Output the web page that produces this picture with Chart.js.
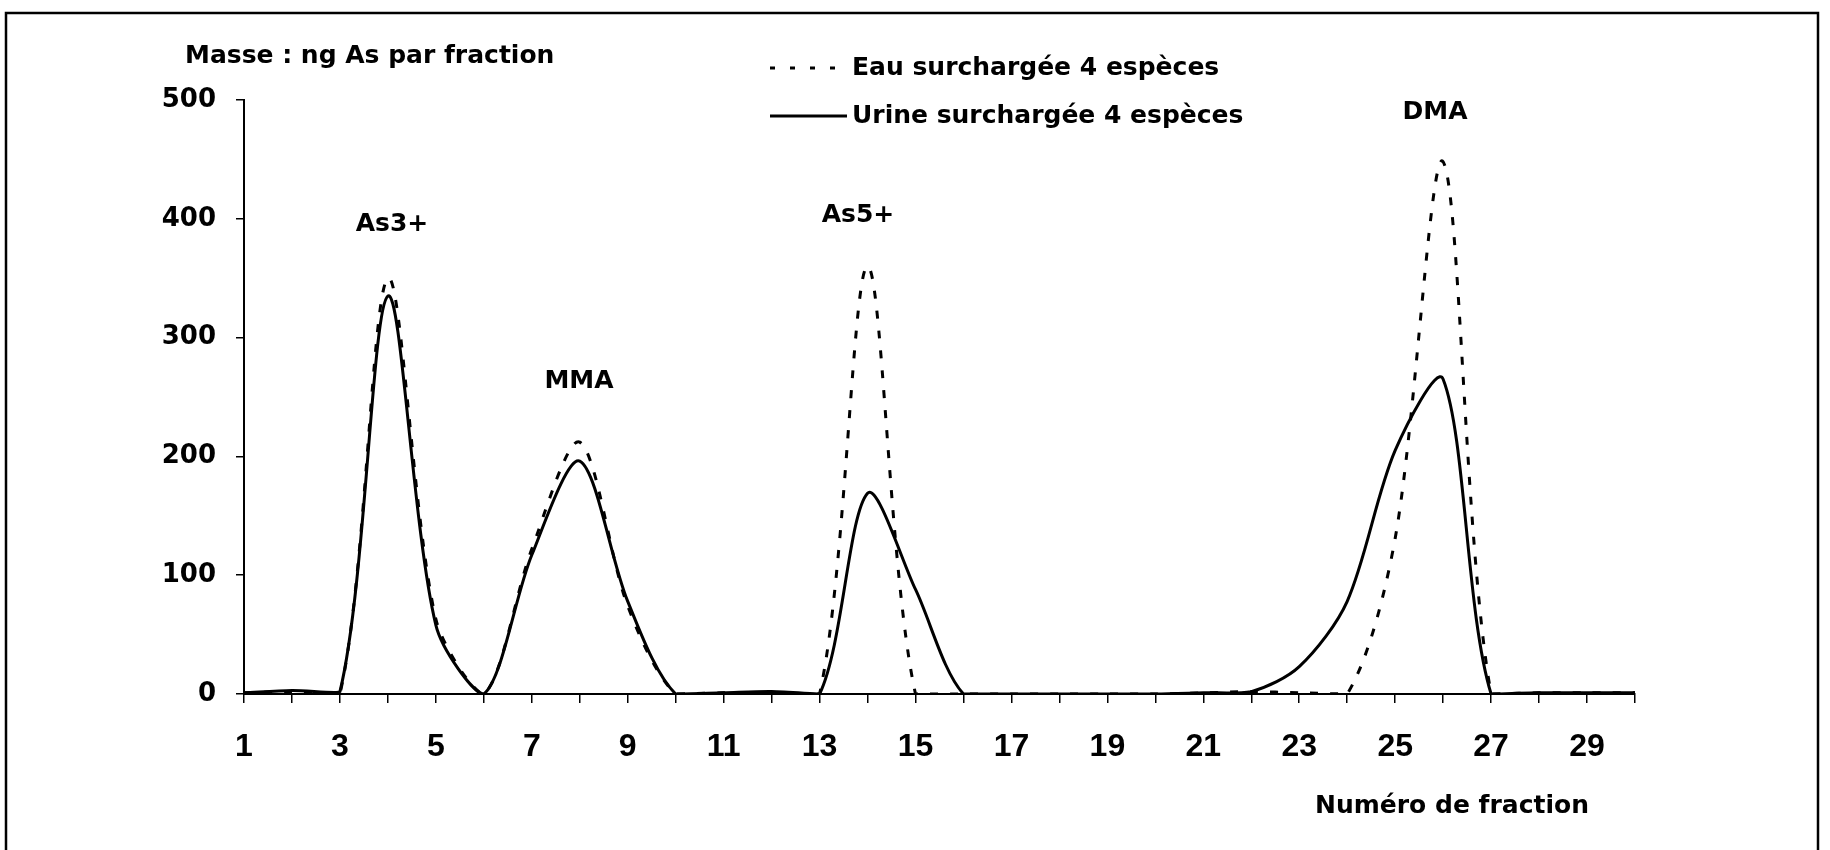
<!DOCTYPE html>
<html>
<head>
<meta charset="utf-8">
<script src="https://cdn.jsdelivr.net/npm/chart.js@4.4.1/dist/chart.umd.min.js"></script>
<style>
  html, body { margin: 0; padding: 0; background: #fff; }
</style>
</head>
<body>
<canvas id="fraction-chart" width="1830" height="850"></canvas>
<script>
// Numéro de fraction (x axis)
const fractions = [1, 2, 3, 4, 5, 6, 7, 8, 9, 10, 11, 12, 13, 14, 15, 16, 17, 18, 19, 20, 21, 22, 23, 24, 25, 26, 27, 28, 29, 30];

// ng As par fraction
const eauValues = [1, 2, 0, 350, 63, 0, 122, 212, 74, 0, 1, 1, 0, 360, 0, 0, 0, 0, 0, 0, 1, 2, 1, 0, 131, 448, 0, 1, 1, 1];
const urineValues = [1, 3, 2, 335, 58, 0, 117, 196, 78, 0, 1, 2, 0, 169, 88, 0, 0, 0, 0, 0, 1, 2, 23, 78, 205, 265, 0, 1, 1, 1];

const seriesNames = ["Eau surchargée 4 espèces", "Urine surchargée 4 espèces"];
const peakNames = ["As3+", "MMA", "As5+", "DMA"];
const yTitle = "Masse : ng As par fraction";
const xTitle = "Numéro de fraction";

// where the peak names sit (pixels)
const peakLabelPos = [[392, 224], [579, 381], [858, 215], [1435, 112]];

const wideFont = '"DejaVu Sans", sans-serif';

function toPoints(values) {
    return fractions.map((f, i) => ({ x: f, y: values[i] }));
}

const decorPlugin = {
    id: "decor",
    beforeDraw(chart) {
        const ctx = chart.ctx;
        ctx.save();
        ctx.fillStyle = "#fff";
        ctx.fillRect(0, 0, chart.width, chart.height);
        ctx.restore();
    },
    afterDraw(chart) {
        const ctx = chart.ctx;
        ctx.save();
        // frame round the figure
        ctx.strokeStyle = "#000";
        ctx.lineWidth = 2.5;
        ctx.strokeRect(6, 13, 1812, 900);

        ctx.fillStyle = "#000";
        ctx.font = "bold 25px " + wideFont;
        ctx.textBaseline = "middle";
        ctx.textAlign = "left";
        ctx.fillText(yTitle, 185, 56);

        ctx.textAlign = "center";
        ctx.fillText(xTitle, 1452, 806);
        peakNames.forEach((name, i) => {
            ctx.fillText(name, peakLabelPos[i][0], peakLabelPos[i][1]);
        });

        // legend
        chart.data.datasets.forEach((ds, i) => {
            const y = 68 + i * 48;
            ctx.beginPath();
            ctx.setLineDash(ds.legendDash || []);
            ctx.lineWidth = ds.borderWidth;
            ctx.moveTo(770, y);
            ctx.lineTo(847, y);
            ctx.stroke();
            ctx.setLineDash([]);
            ctx.textAlign = "left";
            ctx.fillText(ds.label, 852, y);
        });
        ctx.restore();
    }
};

const ctx = document.getElementById("fraction-chart").getContext("2d");
new Chart(ctx, {
    type: "line",
    data: {
        datasets: [
            {
                label: seriesNames[0],
                data: toPoints(eauValues),
                borderColor: "#000",
                borderWidth: 3,
                borderDash: [8, 12],
                legendDash: [5, 15],
                fill: false
            },
            {
                label: seriesNames[1],
                data: toPoints(urineValues),
                borderColor: "#000",
                borderWidth: 3,
                fill: false
            }
        ]
    },
    options: {
        responsive: false,
        animation: false,
        devicePixelRatio: 1,
        layout: { padding: { top: 100, right: 195, left: 0, bottom: 0 } },
        plugins: {
            legend: { display: false },
            tooltip: { enabled: false }
        },
        elements: {
            point: { radius: 0 },
            line: { tension: 0.3 }
        },
        scales: {
            x: {
                type: "linear",
                min: 1,
                max: 30,
                afterFit: (scale) => { scale.height = 156; },
                border: { color: "#000", width: 2 },
                grid: { drawOnChartArea: false, color: "#000", lineWidth: 1.5, tickLength: 9 },
                ticks: {
                    stepSize: 1,
                    autoSkip: false,
                    maxRotation: 0,
                    padding: 25,
                    color: "#000",
                    font: { family: '"Liberation Sans", Arial, sans-serif', size: 32, weight: "bold" },
                    callback: (v) => (v % 2 === 1 ? v : "")
                }
            },
            y: {
                min: 0,
                max: 500,
                afterFit: (scale) => { scale.width = 244; },
                border: { color: "#000", width: 2 },
                grid: { drawOnChartArea: false, color: "#000", lineWidth: 1.5, tickLength: 8 },
                ticks: {
                    stepSize: 100,
                    padding: 20,
                    color: "#000",
                    font: { family: wideFont, size: 26, weight: "bold" }
                }
            }
        }
    },
    plugins: [decorPlugin]
});
</script>
</body>
</html>
